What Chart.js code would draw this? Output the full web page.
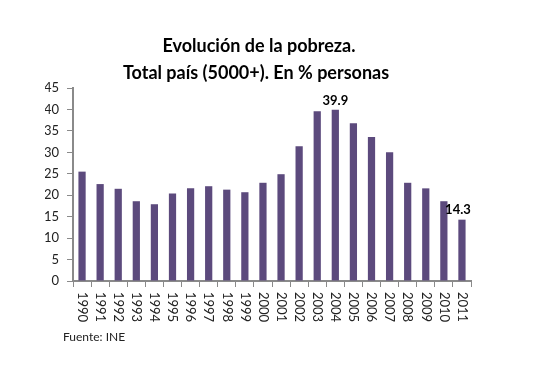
<!DOCTYPE html>
<html>
<head>
<meta charset="utf-8">
<script src="https://cdn.jsdelivr.net/npm/chart.js@4"></script>
<style>
  html, body { margin: 0; padding: 0; background: #ffffff; }
  #wrap { width: 541px; height: 382px; position: relative; }
</style>
</head>
<body>
<div id="wrap"><canvas id="c" width="541" height="382"></canvas></div>
<script>
// ---- data ----
const years = ['1990','1991','1992','1993','1994','1995','1996','1997','1998','1999','2000',
               '2001','2002','2003','2004','2005','2006','2007','2008','2009','2010','2011'];
const poverty = [25.5, 22.6, 21.5, 18.6, 17.9, 20.4, 21.6, 22.1, 21.3, 20.7, 22.9,
                 24.9, 31.4, 39.6, 39.9, 36.8, 33.6, 30.0, 22.9, 21.6, 18.6, 14.3];
const labeledYears = ['2004', '2011'];
const titleLines = ['Evolución de la pobreza.', 'Total país (5000+). En % personas'];
const sourceText = 'Fuente: INE';
const yMin = 0, yMax = 45, yStep = 5;

const FONT = 'Lato, "Open Sans", sans-serif';
const AXIS_COLOR = '#8a8a8a';

const overlay = {
  id: 'overlay',
  afterDraw(chart) {
    const ctx = chart.ctx;
    const xs = chart.scales.x;
    const area = chart.chartArea;
    ctx.save();
    // title
    ctx.fillStyle = '#000';
    ctx.font = 'bold 18px ' + FONT;
    ctx.textAlign = 'center';
    ctx.textBaseline = 'middle';
    ctx.fillText(titleLines[0], 259, 46);
    ctx.fillText(titleLines[1], 256, 73);
    // x labels rotated clockwise
    ctx.font = '13px ' + FONT;
    ctx.fillStyle = '#222';
    ctx.textAlign = 'left';
    ctx.textBaseline = 'middle';
    years.forEach((y, i) => {
      const x = xs.getPixelForTick(i);
      ctx.save();
      ctx.translate(x, area.bottom + 11);
      ctx.rotate(Math.PI / 2);
      ctx.fillText(y, 0, 0);
      ctx.restore();
    });
    // value labels
    const meta = chart.getDatasetMeta(0);
    ctx.font = 'bold 13px ' + FONT;
    ctx.fillStyle = '#000';
    ctx.textAlign = 'center';
    ctx.textBaseline = 'bottom';
    meta.data.forEach((bar, i) => {
      if (labeledYears.includes(years[i])) {
        ctx.fillText(poverty[i].toFixed(1), bar.x - (i === years.length - 1 ? 4 : 0), bar.y - 3);
      }
    });
    // source
    ctx.font = '12px ' + FONT;
    ctx.fillStyle = '#222';
    ctx.textAlign = 'left';
    ctx.textBaseline = 'middle';
    ctx.fillText(sourceText, 63, 337);
    ctx.restore();
  }
};

new Chart(document.getElementById('c'), {
  type: 'bar',
  data: {
    labels: years,
    datasets: [{
      data: poverty,
      backgroundColor: '#5C4A7D',
      borderWidth: 0,
      categoryPercentage: 1.0,
      barPercentage: 0.4
    }]
  },
  options: {
    responsive: false,
    animation: false,
    devicePixelRatio: 1,
    layout: { padding: { left: 45, right: 70, top: 88, bottom: 0 } },
    plugins: { legend: { display: false }, tooltip: { enabled: false }, title: { display: false } },
    scales: {
      x: {
        afterFit(s) { s.height = 101; },
        grid: { display: true, drawOnChartArea: false, drawTicks: true, tickLength: 6, color: AXIS_COLOR, lineWidth: 1, offset: true },
        border: { display: true, color: AXIS_COLOR, width: 2 },
        ticks: { display: false }
      },
      y: {
        min: yMin, max: yMax,
        afterFit(s) { s.width = 28; },
        grid: { display: true, drawOnChartArea: false, drawTicks: true, tickLength: 6, color: AXIS_COLOR, lineWidth: 1 },
        border: { display: true, color: AXIS_COLOR, width: 2 },
        ticks: { stepSize: yStep, padding: 8, color: '#222', font: { family: FONT, size: 13 } }
      }
    }
  },
  plugins: [overlay]
});
</script>
</body>
</html>
